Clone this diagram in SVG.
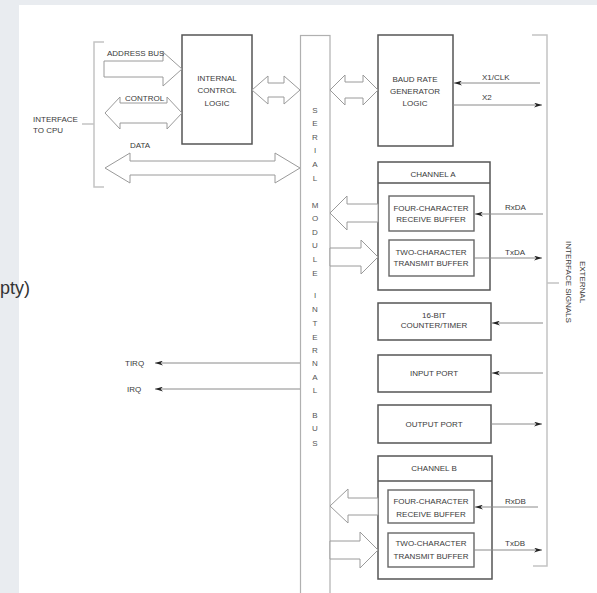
<svg xmlns="http://www.w3.org/2000/svg" width="597" height="593" viewBox="0 0 597 593">
<style>
.t{font-family:"Liberation Sans",Arial,sans-serif;font-size:8px;fill:#3a3a3a}
.c{text-anchor:middle}
.bl{font-family:"Liberation Sans",Arial,sans-serif;font-size:8px;fill:#555;text-anchor:middle}
.box{fill:#fff;stroke:#555;stroke-width:1.5}
.ibox{fill:#fff;stroke:#666;stroke-width:1.4}
.blk{fill:#fff;stroke:#9a9a9a;stroke-width:1}
.sig{fill:none;stroke:#8a8a8a;stroke-width:1}
.brk{fill:none;stroke:#c4c4c4;stroke-width:1.5}
</style>
<defs>
<marker id="ah" viewBox="0 0 10 6" refX="10" refY="3" markerWidth="8" markerHeight="5" markerUnits="userSpaceOnUse" orient="auto">
<path d="M0,0 L10,3 L0,6 L3,3 Z" fill="#222"/>
</marker>
</defs>
<rect x="0" y="0" width="597" height="593" fill="#e9ecf0"/>
<rect x="19" y="5" width="578" height="588" fill="#fff"/>
<text x="0" y="294" style="font-family:'Liberation Sans',Arial,sans-serif;font-size:18px;fill:#333">pty)</text>

<g id="brackets">
<path class="brk" d="M104,42 H94 V187 H104 M94,124 H82"/>
<path class="brk" d="M532,35 H547 V566 H533 M547,283 H559"/>
</g>
<g id="interface-cpu">
<text class="t" x="33" y="122">INTERFACE</text>
<text class="t" x="33" y="133">TO CPU</text>
</g>
<g id="external-signals">
<g transform="translate(576,282) rotate(90)">
<text class="t c" x="0" y="-4">EXTERNAL</text>
<text class="t c" x="0" y="10">INTERFACE SIGNALS</text>
</g>
</g>

<g id="serial-bus">
<rect x="300.5" y="35.5" width="29.5" height="570" fill="#fff" stroke="#b0b0b0" stroke-width="1.2"/>
<g class="bl">
<text x="315" y="113">S</text><text x="315" y="126">E</text><text x="315" y="140">R</text><text x="315" y="153">I</text><text x="315" y="167">A</text><text x="315" y="181">L</text>
<text x="315" y="208">M</text><text x="315" y="221">O</text><text x="315" y="235">D</text><text x="315" y="248">U</text><text x="315" y="262">L</text><text x="315" y="276">E</text>
<text x="315" y="298">I</text><text x="315" y="312">N</text><text x="315" y="326">T</text><text x="315" y="340">E</text><text x="315" y="353">R</text><text x="315" y="366">N</text><text x="315" y="380">A</text><text x="315" y="393">L</text>
<text x="315" y="418">B</text><text x="315" y="431">U</text><text x="315" y="446">S</text>
</g>
</g>

<g id="internal-control-logic">
<rect class="box" x="182" y="35" width="70" height="109"/>
<text class="t c" x="217" y="81">INTERNAL</text>
<text class="t c" x="217" y="93">CONTROL</text>
<text class="t c" x="217" y="106">LOGIC</text>
</g>
<g id="baud-rate">
<rect class="box" x="378" y="35" width="75" height="111"/>
<text class="t c" x="415" y="82">BAUD RATE</text>
<text class="t c" x="415" y="94">GENERATOR</text>
<text class="t c" x="415" y="106">LOGIC</text>
</g>
<g id="channel-a">
<rect class="box" x="378" y="162" width="112" height="128"/>
<line x1="378" y1="183" x2="490" y2="183" stroke="#555" stroke-width="1.5"/>
<text class="t c" x="433" y="177">CHANNEL A</text>
<g id="rx-buffer-a">
<rect class="ibox" x="389" y="196" width="85" height="35"/>
<text class="t c" x="431" y="211">FOUR-CHARACTER</text>
<text class="t c" x="431" y="222">RECEIVE BUFFER</text>
</g>
<g id="tx-buffer-a">
<rect class="ibox" x="389" y="240" width="85" height="36"/>
<text class="t c" x="431" y="255">TWO-CHARACTER</text>
<text class="t c" x="431" y="266">TRANSMIT BUFFER</text>
</g>
</g>
<g id="counter-timer">
<rect class="box" x="378" y="303" width="113" height="37"/>
<text class="t c" x="434" y="318">16-BIT</text>
<text class="t c" x="434" y="328">COUNTER/TIMER</text>
</g>
<g id="input-port">
<rect class="box" x="378" y="355" width="113" height="37"/>
<text class="t c" x="434" y="376">INPUT PORT</text>
</g>
<g id="output-port">
<rect class="box" x="378" y="405" width="113" height="38"/>
<text class="t c" x="434" y="427">OUTPUT PORT</text>
</g>
<g id="channel-b">
<rect class="box" x="378" y="456" width="114" height="123"/>
<line x1="378" y1="481" x2="492" y2="481" stroke="#555" stroke-width="1.5"/>
<text class="t c" x="434" y="471">CHANNEL B</text>
<g id="rx-buffer-b">
<rect class="ibox" x="388" y="490" width="86" height="33"/>
<text class="t c" x="431" y="504">FOUR-CHARACTER</text>
<text class="t c" x="431" y="517">RECEIVE BUFFER</text>
</g>
<g id="tx-buffer-b">
<rect class="ibox" x="388" y="533" width="86" height="34"/>
<text class="t c" x="431" y="546">TWO-CHARACTER</text>
<text class="t c" x="431" y="559">TRANSMIT BUFFER</text>
</g>
</g>

<g id="connectors">
<polygon class="blk" points="104,61 163,61 163,52 182,69 163,86 163,77 104,77"/>
<polygon class="blk" points="105,113 120,97 120,103 167,103 167,97 182,113 167,129 167,123 120,123 120,129"/>
<polygon class="blk" points="105,168 130,153 130,161 275,161 275,153 300,168 275,183 275,175 130,175 130,183"/>
<polygon class="blk" points="252,90 268,76 268,83 284,83 284,76 300,90 284,104 284,97 268,97 268,104"/>
<polygon class="blk" points="330,90 345,75 345,82 363,82 363,75 378,90 363,105 363,98 345,98 345,105"/>
<polygon class="blk" points="330,213 347,196 347,204 378,204 378,222 347,222 347,230"/>
<polygon class="blk" points="330,248 361,248 361,240 378,257 361,274 361,266 330,266"/>
<polygon class="blk" points="330,506 348,489 348,498 378,498 378,515 348,515 348,523"/>
<polygon class="blk" points="330,541 360,541 360,532 378,550 360,568 360,559 330,559"/>

<line class="sig" x1="540" y1="83" x2="454" y2="83" marker-end="url(#ah)"/>
<line class="sig" x1="453" y1="105" x2="542" y2="105" marker-end="url(#ah)"/>
<line class="sig" x1="543" y1="214" x2="475" y2="214" marker-end="url(#ah)"/>
<line class="sig" x1="474" y1="258" x2="542" y2="258" marker-end="url(#ah)"/>
<line class="sig" x1="543" y1="323" x2="492" y2="323" marker-end="url(#ah)"/>
<line class="sig" x1="543" y1="373" x2="492" y2="373" marker-end="url(#ah)"/>
<line class="sig" x1="491" y1="424" x2="542" y2="424" marker-end="url(#ah)"/>
<line class="sig" x1="538" y1="507" x2="475" y2="507" marker-end="url(#ah)"/>
<line class="sig" x1="474" y1="550" x2="542" y2="550" marker-end="url(#ah)"/>
<line class="sig" x1="300" y1="363" x2="155" y2="363" marker-end="url(#ah)"/>
<line class="sig" x1="300" y1="389" x2="155" y2="389" marker-end="url(#ah)"/>

<text class="t" x="107" y="56">ADDRESS BUS</text>
<text class="t" x="125" y="101">CONTROL</text>
<text class="t" x="130" y="148">DATA</text>
<text class="t" x="482" y="80">X1/CLK</text>
<text class="t" x="482" y="100">X2</text>
<text class="t" x="505" y="210">RxDA</text>
<text class="t" x="505" y="255">TxDA</text>
<text class="t" x="505" y="504">RxDB</text>
<text class="t" x="505" y="546">TxDB</text>
<text class="t" x="125" y="366">TIRQ</text>
<text class="t" x="127" y="392">IRQ</text>
</g>
</svg>
